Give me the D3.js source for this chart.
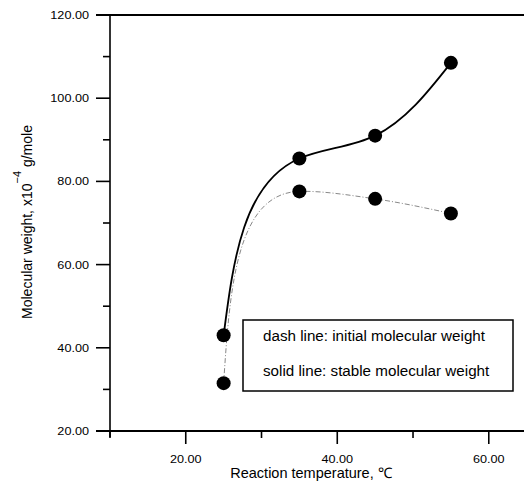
<!DOCTYPE html>
<html>
<head>
<meta charset="utf-8">
<script src="https://cdn.jsdelivr.net/npm/d3@7"></script>
<style>
  body { margin: 0; background: #fff; }
  text { font-family: "Liberation Sans", Arial, sans-serif; fill: #000; }
</style>
</head>
<body>
<div id="chart"></div>
<script>
const temps = [25, 35, 45, 55];
const stableMW = [43.0, 85.5, 91.0, 108.5];
const initialMW = [31.5, 77.6, 75.8, 72.3];
const xMajorTicks = [20, 40, 60];
const xMinorTicks = [10, 30, 50];
const yMajorTicks = [20, 40, 60, 80, 100, 120];
const yMinorTicks = [30, 50, 70, 90, 110];
const legendLines = ['dash line: initial molecular weight', 'solid line: stable molecular weight'];

const width = 524, height = 482;
const svg = d3.select('#chart').append('svg')
  .attr('width', width).attr('height', height);

const x = d3.scaleLinear().domain([10, 64.65]).range([110, 524]);
const y = d3.scaleLinear().domain([20, 120]).range([431, 15]);

// smooth parametric Hermite curve through the points:
// inner tangents lean toward the shorter neighbouring chord, ends are "natural"
function SmoothCurve(context) { this._context = context; }
SmoothCurve.prototype = {
  areaStart() {}, areaEnd() {},
  lineStart() { this._px = []; this._py = []; },
  point(px, py) { this._px.push(+px); this._py.push(+py); },
  lineEnd() {
    const X = this._px, Y = this._py, n = X.length, ctx = this._context;
    if (!n) return;
    ctx.moveTo(X[0], Y[0]);
    if (n < 3) { if (n === 2) ctx.lineTo(X[1], Y[1]); return; }
    const h = [], dx = [], dy = [];
    for (let i = 0; i < n - 1; i++) {
      const l = Math.hypot(X[i + 1] - X[i], Y[i + 1] - Y[i]) || 1e-6;
      h.push(l); dx.push((X[i + 1] - X[i]) / l); dy.push((Y[i + 1] - Y[i]) / l);
    }
    const mx = new Array(n), my = new Array(n);
    for (let i = 1; i < n - 1; i++) {
      const a = h[i] * h[i], b = h[i - 1] * h[i - 1];
      mx[i] = (a * dx[i - 1] + b * dx[i]) / (a + b);
      my[i] = (a * dy[i - 1] + b * dy[i]) / (a + b);
    }
    mx[0] = (3 * dx[0] - mx[1]) / 2; my[0] = (3 * dy[0] - my[1]) / 2;
    mx[n - 1] = (3 * dx[n - 2] - mx[n - 2]) / 2; my[n - 1] = (3 * dy[n - 2] - my[n - 2]) / 2;
    for (let i = 0; i < n - 1; i++) {
      const k = h[i] / 3;
      ctx.bezierCurveTo(X[i] + mx[i] * k, Y[i] + my[i] * k,
        X[i + 1] - mx[i + 1] * k, Y[i + 1] - my[i + 1] * k, X[i + 1], Y[i + 1]);
    }
  }
};
const curveSmooth = (context) => new SmoothCurve(context);

// Top frame line
svg.append('line')
  .attr('x1', 96).attr('x2', 524).attr('y1', y(120)).attr('y2', y(120))
  .attr('stroke', '#000').attr('stroke-width', 2);

// X axis
const xAxis = svg.append('g');
xAxis.append('line')
  .attr('x1', 96).attr('x2', 524).attr('y1', y(20)).attr('y2', y(20))
  .attr('stroke', '#000').attr('stroke-width', 2);
xAxis.selectAll('.xmaj').data(xMajorTicks).join('line')
  .attr('x1', d => x(d)).attr('x2', d => x(d))
  .attr('y1', y(20)).attr('y2', y(20) + 13)
  .attr('stroke', '#000').attr('stroke-width', 1.6);
xAxis.selectAll('.xmin').data(xMinorTicks).join('line')
  .attr('x1', d => x(d)).attr('x2', d => x(d))
  .attr('y1', y(20)).attr('y2', y(20) + 7)
  .attr('stroke', '#000').attr('stroke-width', 1.6);
xAxis.selectAll('.xlab').data(xMajorTicks).join('text')
  .attr('transform', d => `translate(${x(d)},${y(20) + 32}) scale(1.15,1)`)
  .attr('text-anchor', 'middle').attr('font-size', 11)
  .text(d => d.toFixed(2));

// Y axis
const yAxis = svg.append('g');
yAxis.append('line')
  .attr('x1', 110).attr('x2', 110).attr('y1', y(120)).attr('y2', y(20) + 6)
  .attr('stroke', '#000').attr('stroke-width', 1.6);
yAxis.selectAll('.ymaj').data(yMajorTicks).join('line')
  .attr('x1', 96).attr('x2', 110)
  .attr('y1', d => y(d)).attr('y2', d => y(d))
  .attr('stroke', '#000').attr('stroke-width', 1.6);
yAxis.selectAll('.ymin').data(yMinorTicks).join('line')
  .attr('x1', 103).attr('x2', 110)
  .attr('y1', d => y(d)).attr('y2', d => y(d))
  .attr('stroke', '#000').attr('stroke-width', 1.6);
yAxis.selectAll('.ylab').data(yMajorTicks).join('text')
  .attr('transform', d => `translate(89,${y(d) + 4}) scale(1.15,1)`)
  .attr('text-anchor', 'end').attr('font-size', 11)
  .text(d => d.toFixed(2));

// Axis titles
svg.append('text')
  .attr('x', 311).attr('y', 478)
  .attr('text-anchor', 'middle').attr('font-size', 14.5)
  .text('Reaction temperature, \u2103');

const yTitle = svg.append('text')
  .attr('transform', 'translate(32,222) rotate(-90)')
  .attr('text-anchor', 'middle').attr('font-size', 14);
yTitle.append('tspan').text('Molecular weight, x10');
yTitle.append('tspan').attr('dy', -11).attr('font-size', 11).text('\u22124');
yTitle.append('tspan').attr('dy', 11).text(' g/mole');

// Curves
const line = d3.line().curve(curveSmooth)
  .x(d => x(d[0])).y(d => y(d[1]));

svg.append('path')
  .datum(temps.map((t, i) => [t, initialMW[i]]))
  .attr('d', line)
  .attr('fill', 'none').attr('stroke', '#888')
  .attr('stroke-width', 1).attr('stroke-dasharray', '5,2,1,2');

svg.append('path')
  .datum(temps.map((t, i) => [t, stableMW[i]]))
  .attr('d', line)
  .attr('fill', 'none').attr('stroke', '#000').attr('stroke-width', 1.8);

// Markers
svg.selectAll('.p1').data(temps.map((t, i) => [t, stableMW[i]])).join('circle')
  .attr('cx', d => x(d[0])).attr('cy', d => y(d[1])).attr('r', 7).attr('fill', '#000');
svg.selectAll('.p2').data(temps.map((t, i) => [t, initialMW[i]])).join('circle')
  .attr('cx', d => x(d[0])).attr('cy', d => y(d[1])).attr('r', 7).attr('fill', '#000');

// Legend box
const lg = svg.append('g');
lg.append('rect')
  .attr('x', 243).attr('y', 320).attr('width', 270).attr('height', 71)
  .attr('fill', '#fff').attr('stroke', '#000').attr('stroke-width', 1.5);
lg.selectAll('text').data(legendLines).join('text')
  .attr('x', 263).attr('y', (d, i) => 341 + i * 35)
  .attr('font-size', 15.2)
  .text(d => d);
</script>
</body>
</html>
